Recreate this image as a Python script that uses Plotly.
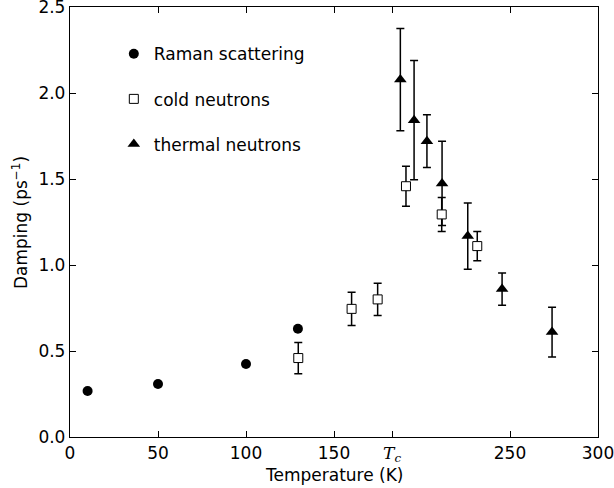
import plotly.graph_objects as go

# Raman scattering
raman_T = [10, 50, 100, 129.5]
raman_G = [0.267, 0.308, 0.424, 0.629]

# cold neutrons
cold_T = [129.7, 160, 174.8, 190.9, 211.2, 231.4]
cold_G = [0.459, 0.745, 0.800, 1.458, 1.294, 1.110]
cold_err = [0.091, 0.097, 0.094, 0.116, 0.099, 0.085]

# thermal neutrons
therm_T = [187.7, 195.5, 202.8, 211.4, 226.0, 245.5, 273.9]
therm_G = [2.078, 1.842, 1.720, 1.474, 1.168, 0.860, 0.610]
therm_err = [0.297, 0.347, 0.153, 0.245, 0.193, 0.094, 0.145]

Tc = 183
xtick_vals = [0, 50, 100, 150, Tc, 250, 300]
xtick_text = ["0", "50", "100", "150",
              "<span style='font-family:DejaVu Serif'><i>T</i><sub><i>c</i></sub></span>",
              "250", "300"]
ytick_vals = [0.0, 0.5, 1.0, 1.5, 2.0, 2.5]

FS = 17
font = dict(family="DejaVu Sans", size=FS, color="black")

fig = go.Figure()
fig.add_trace(go.Scatter(
    x=raman_T, y=raman_G, mode="markers", name="Raman scattering",
    marker=dict(symbol="circle", size=10, color="black"),
    legendrank=1, legendgroup="a"))
fig.add_trace(go.Scatter(
    x=therm_T, y=therm_G, mode="markers", name="thermal neutrons",
    marker=dict(symbol="triangle-up", size=11, color="black"),
    error_y=dict(type="data", array=therm_err, color="black", thickness=1.5, width=4),
    legendrank=3, legendgroup="c"))
fig.add_trace(go.Scatter(
    x=cold_T, y=cold_G, mode="markers", name="cold neutrons",
    marker=dict(symbol="square", size=9, color="white", line=dict(color="black", width=1)),
    error_y=dict(type="data", array=cold_err, color="black", thickness=1.5, width=4),
    legendrank=2, legendgroup="b"))

axis_common = dict(showline=True, linecolor="black", linewidth=1.3, mirror="allticks",
                   ticks="inside", ticklen=6, tickcolor="black", showgrid=False,
                   zeroline=False, tickfont=font, ticklabeloverflow="allow")

fig.update_xaxes(range=[0, 300], tickmode="array", tickvals=xtick_vals, ticktext=xtick_text,
                 **axis_common)
fig.update_yaxes(range=[0, 2.5], tickmode="array", tickvals=ytick_vals,
                 ticktext=[f"{v:.1f}" for v in ytick_vals],
                 **axis_common)

fig.add_annotation(text="Temperature (K)", xref="paper", yref="paper",
                   x=0.5, y=-0.0884, xanchor="center", yanchor="middle",
                   showarrow=False, font=font)
fig.add_annotation(text="Damping (ps<sup>−1</sup>)", xref="paper", yref="paper",
                   x=-0.0947, y=0.5, xanchor="center", yanchor="middle", textangle=-90,
                   showarrow=False, font=font)

fig.update_layout(
    width=614, height=488,
    margin=dict(l=70, r=16, t=7, b=51, autoexpand=False),
    plot_bgcolor="white", paper_bgcolor="white",
    legend=dict(x=0.083, y=0.932, xanchor="left", yanchor="top",
                font=font, bgcolor="rgba(0,0,0,0)", tracegroupgap=20, itemwidth=30),
    showlegend=True,
)

fig.write_html("out.html")
